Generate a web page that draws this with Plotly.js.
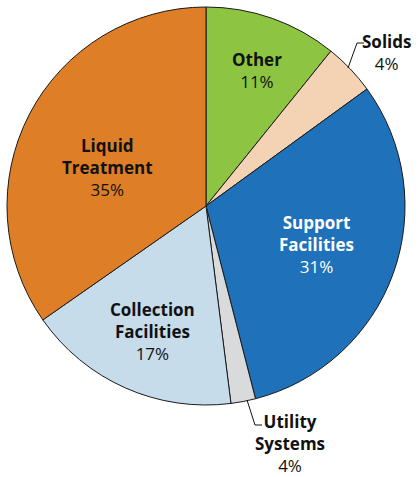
<!DOCTYPE html>
<html>
<head>
<meta charset="utf-8">
<script src="https://cdn.plot.ly/plotly-3.0.1.min.js"></script>
<style>html,body{margin:0;padding:0;background:#fff;}#chart{width:420px;height:477px;}</style>
</head>
<body>
<div id="chart"></div>
<script>
var categories = ["Other", "Solids", "Support Facilities", "Utility Systems", "Collection Facilities", "Liquid Treatment"];
var labelNames = ["Other", "Solids", "Support<br>Facilities", "Utility<br>Systems", "Collection<br>Facilities", "Liquid<br>Treatment"];
var values = [10.8, 4.2, 31.0, 2.0, 17.3, 34.7];
var pctLabels = ["11%", "4%", "31%", "4%", "17%", "35%"];
var colors = ["#8DC542", "#F3D3B3", "#1F71BA", "#D9DADC", "#C6DCEA", "#DE7F27"];
var textColors = ["#111", "#111", "#ffffff", "#111", "#111", "#111"];

// label placement in pixels (x center, y center)
var labelPos = [[257, 70], [386, 52], [316, 244], [290, 443], [152, 331], [107, 167]];

var W = 420, H = 477;
function px(x) { return x / W; }
function py(y) { return 1 - y / H; }

var cx = 206, cy = 206, r = 199;

var annotations = labelPos.map(function (p, i) {
  return {
    xref: 'paper', yref: 'paper',
    x: px(p[0]), y: py(p[1]),
    xanchor: 'center', yanchor: 'middle',
    showarrow: false,
    align: 'center',
    text: '<b>' + labelNames[i] + '</b><br>' + pctLabels[i],
    font: {family: 'Open Sans, Liberation Sans, sans-serif', size: 17, color: textColors[i]}
  };
});

var shapes = [
  {type: 'path', xref: 'paper', yref: 'paper',
   path: 'M ' + px(348) + ' ' + py(68) + ' L ' + px(357) + ' ' + py(43) + ' L ' + px(364) + ' ' + py(43),
   line: {color: '#111', width: 1}},
  {type: 'path', xref: 'paper', yref: 'paper',
   path: 'M ' + px(247) + ' ' + py(400) + ' L ' + px(255) + ' ' + py(425) + ' L ' + px(262) + ' ' + py(425),
   line: {color: '#111', width: 1}}
];

var trace = {
  type: 'pie',
  labels: categories,
  values: values,
  sort: false,
  direction: 'clockwise',
  rotation: 0,
  textinfo: 'none',
  hoverinfo: 'label+percent',
  marker: {colors: colors, line: {color: '#1a1a1a', width: 1}},
  domain: {x: [(cx - r) / W, (cx + r) / W], y: [(H - cy - r) / H, (H - cy + r) / H]},
  showlegend: false
};

var layout = {
  width: W, height: H,
  margin: {l: 0, r: 0, t: 0, b: 0},
  paper_bgcolor: '#fff',
  showlegend: false,
  annotations: annotations,
  shapes: shapes
};

Plotly.newPlot('chart', [trace], layout, {displayModeBar: false, staticPlot: true});
</script>
</body>
</html>
